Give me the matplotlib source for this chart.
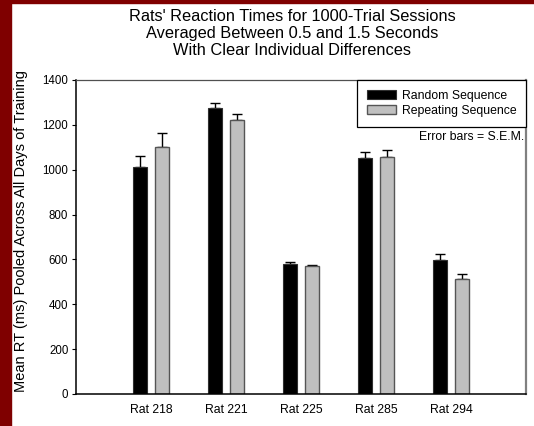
import numpy as np
import matplotlib
matplotlib.use("Agg")
import matplotlib.pyplot as plt
from matplotlib.patches import Rectangle

plt.rcParams["font.family"] = ["Liberation Sans", "DejaVu Sans"]

rats = ["Rat 218", "Rat 221", "Rat 225", "Rat 285", "Rat 294"]
random_rt = [1012, 1277, 579, 1054, 597]
random_sem = [49, 22, 8, 25, 29]
repeat_rt = [1100, 1222, 569, 1057, 513]
repeat_sem = [62, 28, 6, 30, 21]
yticks = [0, 200, 400, 600, 800, 1000, 1200, 1400]

fig = plt.figure(figsize=(5.34, 4.26), dpi=100)
# maroon frame strips on the left and top
fig.add_artist(Rectangle((0, 0), 11 / 534, 1, transform=fig.transFigure,
                         color="#7f0000", zorder=0))
fig.add_artist(Rectangle((0, 1 - 3 / 426), 1, 3 / 426, transform=fig.transFigure,
                         color="#7f0000", zorder=0))

ax = fig.add_axes([76 / 534, 32 / 426, 450 / 534, 314 / 426])
x = np.arange(1, len(rats) + 1)
w = 0.19
off = 0.15

ax.bar(x - off, random_rt, w, color="black", edgecolor="#303030", linewidth=0.8,
       label="Random Sequence", zorder=2)
ax.bar(x + off, repeat_rt, w, color="#c0c0c0", edgecolor="#555555", linewidth=1.0,
       label="Repeating Sequence", zorder=2)
ax.errorbar(x - off, random_rt, yerr=[np.zeros(5), random_sem], fmt="none",
            ecolor="black", elinewidth=1.0, capsize=3.3, capthick=1.0, zorder=1)
ax.errorbar(x + off, repeat_rt, yerr=[np.zeros(5), repeat_sem], fmt="none",
            ecolor="black", elinewidth=1.0, capsize=3.3, capthick=1.0, zorder=1)

ax.set_xlim(0, 6)
ax.set_ylim(0, 1400)
ax.set_yticks(yticks)
ax.set_xticks(x)
ax.set_xticklabels(rats)
ax.tick_params(axis="y", length=3, width=0.8, pad=2.5, labelsize=8.3, direction="out")
ax.tick_params(axis="x", length=0, pad=7, labelsize=8.8)

ax.spines["left"].set_linewidth(1.1)
ax.spines["bottom"].set_linewidth(1.1)
ax.spines["top"].set_color("#505050")
ax.spines["top"].set_linewidth(0.9)
ax.spines["right"].set_color("#808080")
ax.spines["right"].set_linewidth(1.6)

leg = ax.legend(loc="upper right", bbox_to_anchor=(1, 1), borderaxespad=0,
                fancybox=False, edgecolor="black", framealpha=1, fontsize=8.8,
                handlelength=2.4, handleheight=0.7, handletextpad=0.45,
                labelspacing=0.25, borderpad=0.8)
leg.get_frame().set_linewidth(0.9)

ax.text(0.996, 0.82, "Error bars = S.E.M.", transform=ax.transAxes,
        ha="right", va="center", fontsize=8.8)

fig.text(292 / 534, 1 - 33.5 / 426,
         "Rats' Reaction Times for 1000-Trial Sessions\n"
         "Averaged Between 0.5 and 1.5 Seconds\n"
         "With Clear Individual Differences",
         ha="center", va="center", fontsize=11.8, linespacing=1.18)

fig.text(21 / 534, 1 - 231.5 / 426, "Mean RT (ms) Pooled Across All Days of Training",
         rotation=90, ha="center", va="center", fontsize=10.5)

fig.savefig("out.png", dpi=100)
